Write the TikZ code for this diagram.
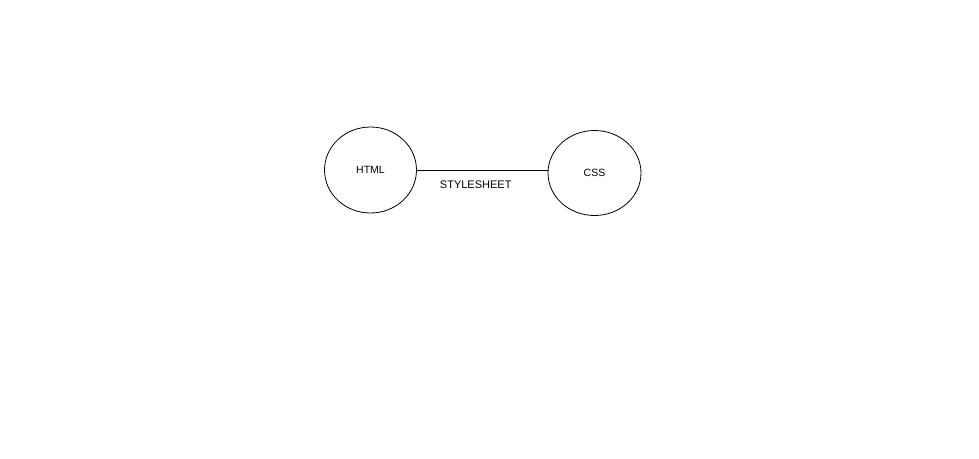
\documentclass[tikz,border=0pt]{standalone}
\usepackage{fontspec}
\setmainfont{Liberation Sans}
\usetikzlibrary{shapes.geometric}
\tikzset{
 blob/.style={draw,ellipse,thick,minimum width=92pt,minimum height=86pt,inner sep=0pt,font=\fontsize{10.5}{12}\selectfont},
}
\begin{document}
\begin{tikzpicture}[x=1pt,y=-1pt]
\useasboundingbox[fill=white] (0,0) rectangle (979,458);
\node (html) [blob] at (370.5,170) {HTML};
\node (css) [blob,minimum width=93pt,minimum height=85pt] at (594.5,173) {CSS};
\draw[thick] (html.east) -- (html.east -| css.west) node[pos=0.45,below=7pt,font=\fontsize{11}{12}\selectfont] (lbl) {STYLESHEET};
\end{tikzpicture}
\end{document}
